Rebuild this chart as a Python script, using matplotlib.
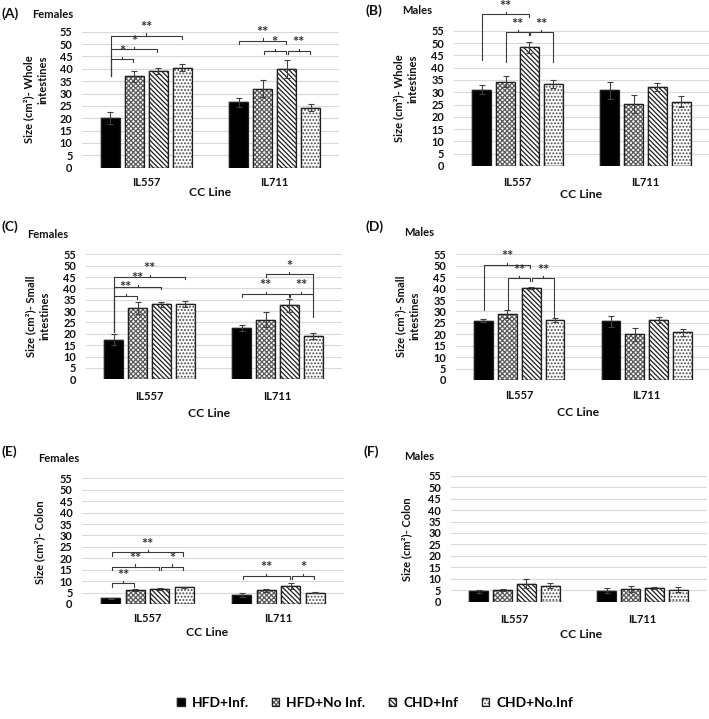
import matplotlib
matplotlib.use('Agg')
import matplotlib.pyplot as plt

plt.rcParams['font.family'] = ['Lato', 'DejaVu Sans']
plt.rcParams['font.weight'] = 'bold'
plt.rcParams['hatch.linewidth'] = 0.9

W, H = 709, 719

cc_lines = ['IL557', 'IL711']
groups = ['HFD+Inf.', 'HFD+No Inf.', 'CHD+Inf', 'CHD+No.Inf']
yticks = list(range(0, 56, 5))

# values: one list per group, [IL557, IL711]
a_hfd_inf = [20.0, 26.5];  a_hfd_inf_err = [2.5, 1.8]
a_hfd_no = [37.0, 32.0];   a_hfd_no_err = [2.3, 3.3]
a_chd_inf = [39.2, 40.0];  a_chd_inf_err = [1.2, 3.7]
a_chd_no = [40.5, 24.3];   a_chd_no_err = [1.3, 1.5]

b_hfd_inf = [31.0, 30.7];  b_hfd_inf_err = [1.8, 3.3]
b_hfd_no = [34.3, 25.3];   b_hfd_no_err = [2.2, 3.7]
b_chd_inf = [48.2, 32.0];  b_chd_inf_err = [2.4, 1.6]
b_chd_no = [33.2, 26.2];   b_chd_no_err = [1.6, 2.3]

c_hfd_inf = [17.5, 22.5];  c_hfd_inf_err = [2.5, 1.3]
c_hfd_no = [31.2, 26.3];   c_hfd_no_err = [2.6, 3.2]
c_chd_inf = [33.0, 32.5];  c_chd_inf_err = [1.2, 2.8]
c_chd_no = [33.2, 19.2];   c_chd_no_err = [1.3, 1.3]

d_hfd_inf = [26.0, 25.7];  d_hfd_inf_err = [0.8, 2.5]
d_hfd_no = [28.9, 20.0];   d_hfd_no_err = [1.8, 2.8]
d_chd_inf = [40.3, 26.2];  d_chd_inf_err = [0.5, 1.2]
d_chd_no = [26.2, 20.8];   d_chd_no_err = [1.0, 1.5]

e_hfd_inf = [2.5, 4.0];    e_hfd_inf_err = [0.2, 0.8]
e_hfd_no = [6.0, 6.0];     e_hfd_no_err = [0.4, 0.6]
e_chd_inf = [6.5, 7.8];    e_chd_inf_err = [0.3, 1.3]
e_chd_no = [7.3, 5.0];     e_chd_no_err = [0.3, 0.2]

f_hfd_inf = [4.5, 4.8];    f_hfd_inf_err = [0.8, 1.0]
f_hfd_no = [5.2, 5.5];     f_hfd_no_err = [0.5, 1.2]
f_chd_inf = [7.8, 5.8];    f_chd_inf_err = [2.0, 0.4]
f_chd_no = [7.0, 5.3];     f_chd_no_err = [1.0, 1.0]

# significance brackets: (cc line index, bar i, bar j, y, label, left end bottom, right end bottom)
a_sig = [(0, 0, 1, 43.9, '*', 36.9, 42.6), (0, 0, 2, 47.9, '*', 36.9, 46.6),
         (0, 0, 3, 53.4, '**', 36.9, 52.1), (1, 0, 2, 51.4, '**', 50.2, 50.2),
         (1, 1, 2, 47.3, '*', 46.1, 46.1), (1, 2, 3, 47.3, '**', 46.1, 46.1)]
b_sig = [(0, 0, 2, 61.6, '**', 43.0, 60.4), (0, 1, 2, 54.3, '**', 42.4, 53.1),
         (0, 2, 3, 54.3, '**', 53.1, 42.4)]
c_sig = [(0, 0, 1, 36.7, '**', 21.0, 35.5), (0, 0, 2, 40.8, '**', 21.0, 39.6),
         (0, 0, 3, 45.2, '**', 21.0, 44.0), (1, 0, 2, 37.6, '**', 36.3, 36.3),
         (1, 2, 3, 37.6, '**', 36.3, 36.3), (1, 1, 3, 46.3, '*', 45.1, 27.6)]
d_sig = [(0, 0, 2, 50.4, '**', 30.6, 49.2), (0, 1, 2, 44.5, '**', 30.6, 43.3),
         (0, 2, 3, 44.5, '**', 43.3, 27.3)]
e_sig = [(0, 0, 3, 22.6, '**', 21.2, 21.2), (0, 0, 2, 16.4, '**', 15.0, 15.0),
         (0, 2, 3, 16.4, '*', 15.0, 15.0), (0, 0, 1, 9.0, '**', 7.6, 7.6),
         (1, 0, 2, 12.4, '**', 11.0, 11.0), (1, 2, 3, 12.4, '*', 11.0, 11.0)]
f_sig = []

styles = [
    dict(face='black', hatch=None, hc='black'),
    dict(face='white', hatch='xxxxxxx', hc='#5a5a5a'),
    dict(face='white', hatch='\\\\\\\\\\\\\\', hc='#1e1e1e'),
    dict(face='white', hatch='.....', hc='#4a4a4a'),
]

panels = [
    dict(tag='(A)', sex='Females', ylabel='Size (cm²)- Whole\nintestines', malign='right',
         means=[a_hfd_inf, a_hfd_no, a_chd_inf, a_chd_no],
         errs=[a_hfd_inf_err, a_hfd_no_err, a_chd_inf_err, a_chd_no_err], sig=a_sig,
         box=(82, 339, 31.7, 167.7), ylab=(36, 99), catpad=7.0, cc=(210.5, 193),
         tagxy=(2, 14), sexxy=(32, 14)),
    dict(tag='(B)', sex='Males', ylabel='Size (cm²)- Whole\nintestines', malign='right',
         means=[b_hfd_inf, b_hfd_no, b_chd_inf, b_chd_no],
         errs=[b_hfd_inf_err, b_hfd_no_err, b_chd_inf_err, b_chd_no_err], sig=b_sig,
         box=(453.5, 709.5, 30.7, 166), ylab=(406, 98.5), catpad=8.2, cc=(581.5, 195),
         tagxy=(366, 11), sexxy=(402, 11)),
    dict(tag='(C)', sex='Females', ylabel='Size (cm²)- Small\nintestines', malign='center',
         means=[c_hfd_inf, c_hfd_no, c_chd_inf, c_chd_no],
         errs=[c_hfd_inf_err, c_hfd_no_err, c_chd_inf_err, c_chd_no_err], sig=c_sig,
         box=(85.5, 341.5, 254.3, 379.3), ylab=(37.5, 316), catpad=8.7, cc=(209, 414),
         tagxy=(2, 227), sexxy=(27, 234)),
    dict(tag='(D)', sex='Males', ylabel='Size (cm²)- Small\nintestines', malign='center',
         means=[d_hfd_inf, d_hfd_no, d_chd_inf, d_chd_no],
         errs=[d_hfd_inf_err, d_hfd_no_err, d_chd_inf_err, d_chd_no_err], sig=d_sig,
         box=(455.5, 710.5, 254.3, 380), ylab=(408, 316), catpad=7.5, cc=(578, 413),
         tagxy=(366, 227), sexxy=(404, 233)),
    dict(tag='(E)', sex='Females', ylabel='Size (cm²)- Colon', malign='center',
         means=[e_hfd_inf, e_hfd_no, e_chd_inf, e_chd_no],
         errs=[e_hfd_inf_err, e_hfd_no_err, e_chd_inf_err, e_chd_no_err], sig=e_sig,
         box=(82, 344, 478.3, 604), ylab=(40, 542), catpad=6.8, cc=(207, 633),
         tagxy=(2, 452), sexxy=(38, 459)),
    dict(tag='(F)', sex='Males', ylabel='Size (cm²)- Colon', malign='center',
         means=[f_hfd_inf, f_hfd_no, f_chd_inf, f_chd_no],
         errs=[f_hfd_inf_err, f_hfd_no_err, f_chd_inf_err, f_chd_no_err], sig=f_sig,
         box=(450.5, 706.5, 475.7, 601.7), ylab=(407, 539), catpad=8.5, cc=(581.5, 635),
         tagxy=(364, 452), sexxy=(404, 457)),
]

STEP = 0.187
BW = 0.148
offs = [(k - 1.5) * STEP for k in range(4)]
xcat = [0, 1]
LC = '#3a3a3a'
TC = '#111111'

fig = plt.figure(figsize=(W / 100, H / 100), dpi=100)

legend_handles = None
for p in panels:
    l, r, t, b = p['box']
    ax = fig.add_axes([l / W, 1 - b / H, (r - l) / W, (b - t) / H])
    ax.set_xlim(-0.5, 1.5)
    ax.set_ylim(0, 55)
    ax.set_yticks(yticks)
    ax.tick_params(axis='y', length=0, pad=6.8, labelsize=7.9, labelcolor=TC)
    ax.set_xticks(xcat)
    ax.set_xticklabels(cc_lines)
    ax.tick_params(axis='x', length=0, pad=p['catpad'], labelsize=8.0, labelcolor=TC)
    ax.yaxis.grid(True, color='#d9d9d9', lw=0.8)
    ax.set_axisbelow(True)
    for s in ax.spines.values():
        s.set_visible(False)
    handles = []
    for k in range(4):
        st = styles[k]
        xs = [c + offs[k] for c in xcat]
        hb = ax.bar(xs, p['means'][k], width=BW, color=st['face'], edgecolor=st['hc'],
                    hatch=st['hatch'], linewidth=0.3, zorder=2)
        ob = ax.bar(xs, p['means'][k], width=BW, fill=False, edgecolor='#202020',
                    linewidth=0.9, zorder=3)
        ax.errorbar(xs, p['means'][k], yerr=p['errs'][k], fmt='none', ecolor='#404040',
                    elinewidth=0.8, capsize=2.5, capthick=0.8, zorder=4)
        handles.append((hb, ob))
    if legend_handles is None:
        legend_handles = handles
    for (ci, i, j, y, lab, lb, rb) in p['sig']:
        x1 = xcat[ci] + offs[i] + 0.006
        x2 = xcat[ci] + offs[j] - 0.006
        ax.plot([x1, x1, x2, x2], [lb, y, y, rb], color=LC, lw=0.8, clip_on=False, zorder=5)
        xm = (x1 + x2) / 2
        ax.plot([xm, xm], [y, y + 0.9], color=LC, lw=0.8, clip_on=False, zorder=5)
        ax.text(xm, y + 0.2, lab, ha='center', va='bottom', fontsize=10.5, color='#333333',
                clip_on=False, zorder=5)
    # text
    fig.text(p['ylab'][0] / W, 1 - p['ylab'][1] / H, p['ylabel'], rotation=90,
             ha='center', va='center', multialignment=p['malign'], fontsize=8.0,
             linespacing=1.35, color=TC)
    fig.text(p['cc'][0] / W, 1 - p['cc'][1] / H, 'CC Line', ha='center', va='center',
             fontsize=8.8, color=TC)
    fig.text(p['tagxy'][0] / W, 1 - p['tagxy'][1] / H, p['tag'], ha='left', va='center',
             fontsize=10, color=TC)
    fig.text(p['sexxy'][0] / W, 1 - p['sexxy'][1] / H, p['sex'], ha='left', va='center',
             fontsize=8.0, color=TC)

fig.legend(legend_handles, groups, loc='center', bbox_to_anchor=(375 / W, 1 - 703 / H),
           ncol=4, frameon=False, fontsize=9.9, handlelength=0.55, handleheight=0.55,
           handletextpad=0.5, columnspacing=1.7)

fig.savefig('out.png', dpi=100)
